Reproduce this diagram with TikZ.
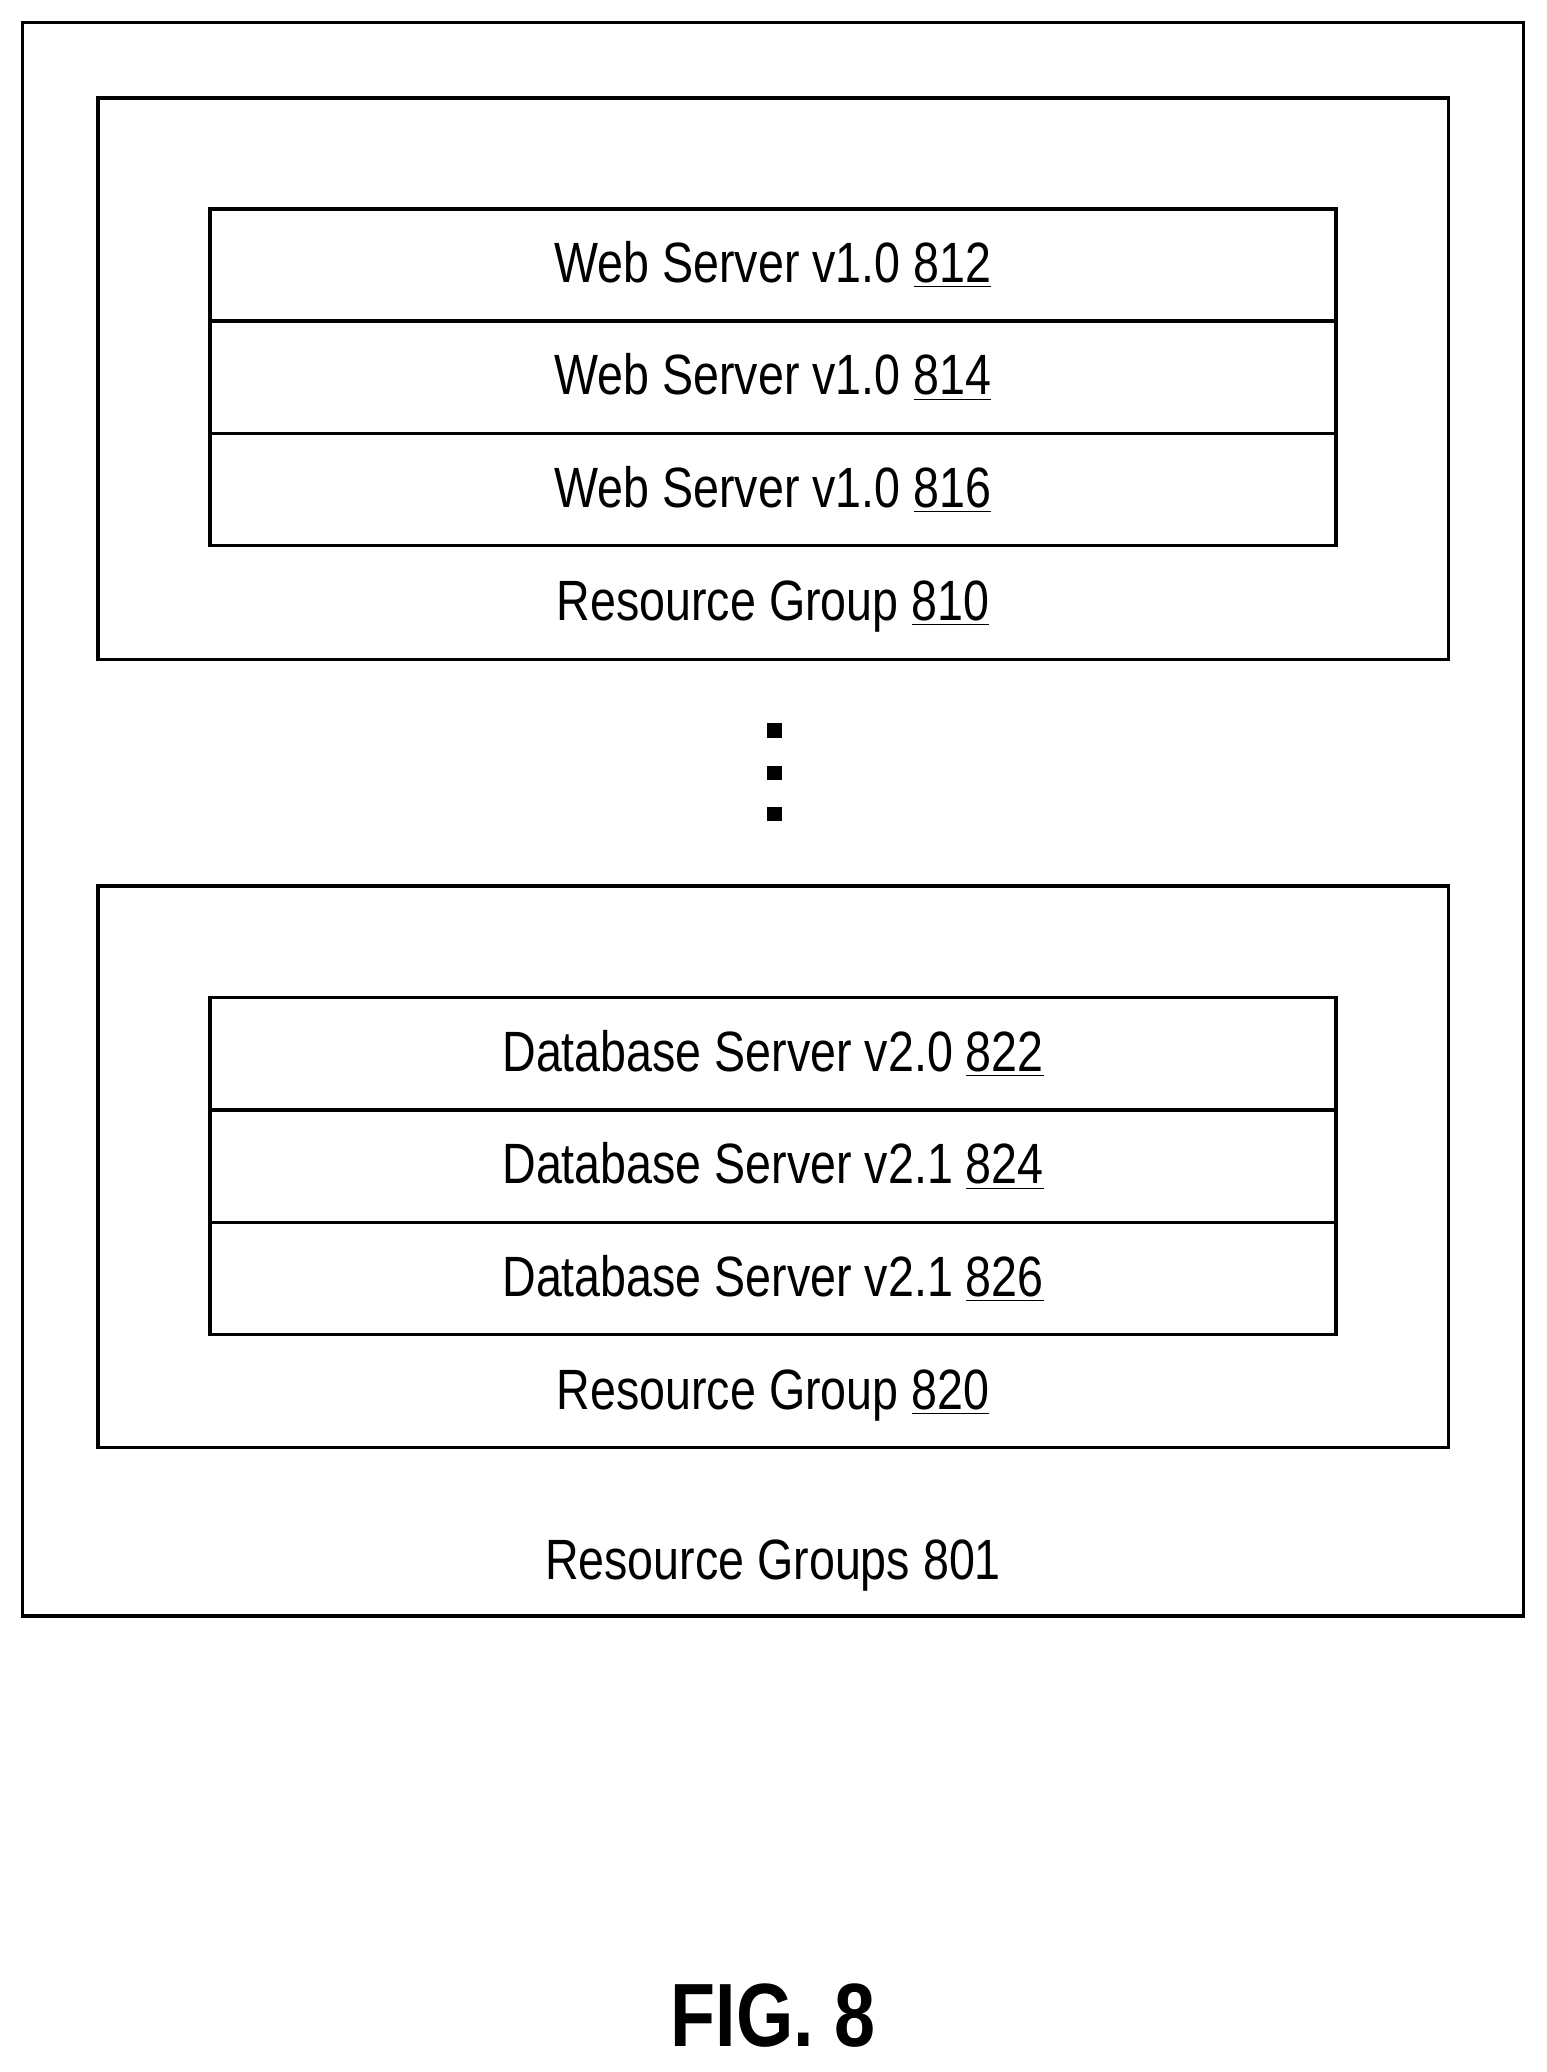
\documentclass[tikz,border=0pt]{standalone}
\usepackage{fontspec}
\setmainfont{Liberation Sans}[FakeStretch=0.82]
\usetikzlibrary{positioning}

\tikzset{
  row/.style={draw, line width=1.3pt, minimum width=426pt, minimum height=42.5pt,
    inner sep=0pt, font=\fontsize{21.5}{25}\selectfont},
  group/.style={draw, line width=1.3pt, minimum width=511pt, minimum height=212.5pt, inner sep=0pt},
  lbl/.style={font=\fontsize{21.5}{25}\selectfont},
  dot/.style={fill, minimum size=5.5pt, inner sep=0pt}
}

\begin{document}
\begin{tikzpicture}[x=0.5pt,y=-0.5pt]
  \useasboundingbox (0,0) rectangle (1170,1568);
  % outer box
  \node[draw, line width=1.3pt, minimum width=568pt, minimum height=603pt, inner sep=0pt] (all) at (585,620) {};
  \node[lbl] (allL) at (585,1185) {Resource Groups 801};
  % group 810
  \node[group] (g810) at (585,286.5) {};
  \node[row] (r812) at (585,200.5) {Web Server v1.0 \underline{812}};
  \node[row, below=-1.3pt of r812] (r814) {Web Server v1.0 \underline{814}};
  \node[row, below=-1.3pt of r814] (r816) {Web Server v1.0 \underline{816}};
  \node[lbl] (g810L) at (585,459) {Resource Group \underline{810}};
  % dots
  \foreach \y [count=\k] in {553,585,616}
    \node[dot] (d\k) at (586,\y) {};
  % group 820
  \node[group] (g820) at (585,883) {};
  \node[row] (r822) at (585,797.5) {Database Server v2.0 \underline{822}};
  \node[row, below=-1.3pt of r822] (r824) {Database Server v2.1 \underline{824}};
  \node[row, below=-1.3pt of r824] (r826) {Database Server v2.1 \underline{826}};
  \node[lbl] (g820L) at (585,1056) {Resource Group \underline{820}};
  % caption
  \node[font=\fontsize{34}{40}\selectfont\bfseries] (fig) at (585,1525) {FIG. 8};
\end{tikzpicture}
\end{document}
